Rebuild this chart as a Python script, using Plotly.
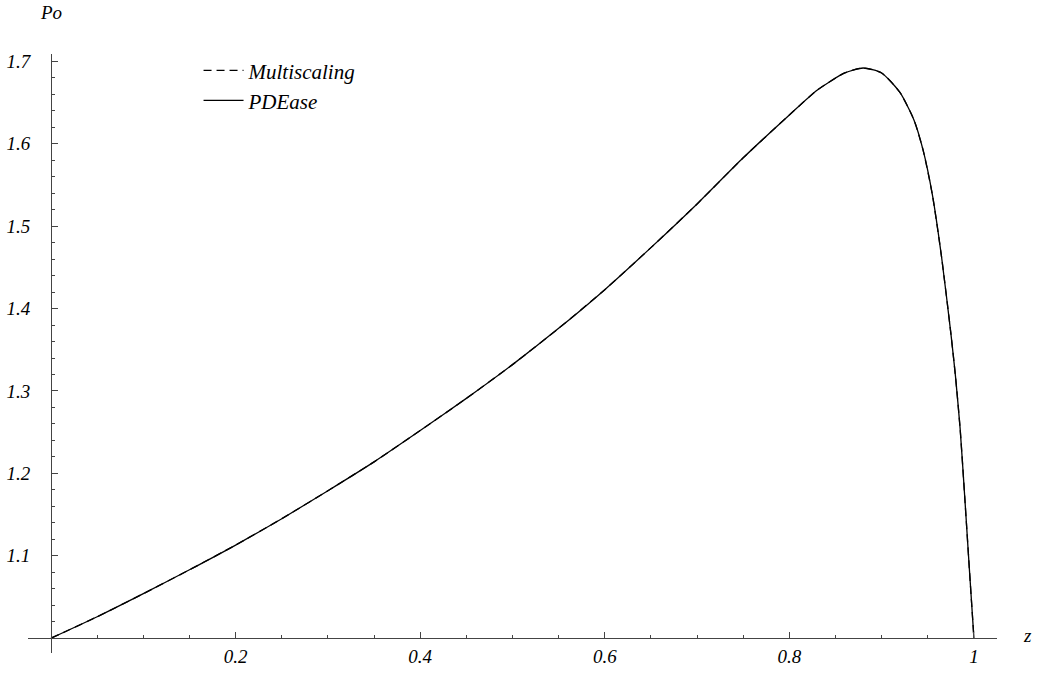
import plotly.graph_objects as go

# data
z_vals = [0.0, 0.05, 0.1, 0.15, 0.2, 0.25, 0.3, 0.35, 0.4, 0.45, 0.5, 0.55, 0.6,
          0.65, 0.7, 0.75, 0.8, 0.83, 0.86, 0.88, 0.9, 0.92, 0.935, 0.945, 0.955,
          0.965, 0.975, 0.98, 0.985, 0.99, 0.995, 1.0]
multiscaling = [1.0, 1.026, 1.054, 1.083, 1.113, 1.145, 1.179, 1.214, 1.252, 1.291,
                1.332, 1.376, 1.423, 1.474, 1.527, 1.583, 1.635, 1.665, 1.686, 1.692,
                1.686, 1.662, 1.629, 1.592, 1.538, 1.462, 1.370, 1.318, 1.255, 1.172,
                1.085, 1.0]
pdease = [1.0, 1.026, 1.054, 1.083, 1.113, 1.145, 1.179, 1.214, 1.252, 1.291,
          1.332, 1.376, 1.423, 1.474, 1.527, 1.583, 1.635, 1.665, 1.686, 1.692,
          1.686, 1.662, 1.629, 1.592, 1.538, 1.462, 1.370, 1.318, 1.255, 1.172,
          1.085, 1.0]

x_tickvals = [0.2, 0.4, 0.6, 0.8, 1.0]
x_ticktext = ["0.2", "0.4", "0.6", "0.8", "1"]
y_tickvals = [1.1, 1.2, 1.3, 1.4, 1.5, 1.6, 1.7]
y_ticktext = ["1.1", "1.2", "1.3", "1.4", "1.5", "1.6", "1.7"]

FONT = "Liberation Serif"
AX = "#444444"

xr = [-0.025, 1.025]
yr = [0.982, 1.709]

fig = go.Figure()
fig.add_trace(go.Scatter(x=z_vals, y=multiscaling, mode="lines", name="Multiscaling",
                         line=dict(color="black", width=1.3, dash="8px,5px",
                                   shape="spline", smoothing=0.6),
                         legend="legend"))
fig.add_trace(go.Scatter(x=z_vals, y=pdease, mode="lines", name="PDEase",
                         line=dict(color="black", width=1.3,
                                   shape="spline", smoothing=0.6),
                         legend="legend2"))

xpos = (1.0 - yr[0]) / (yr[1] - yr[0])
ypos = (0.0 - xr[0]) / (xr[1] - xr[0])

tickfont = dict(family=FONT, size=19, color="black", style="italic")
legfont = dict(family=FONT, size=21, color="black", style="italic")

fig.update_layout(
    width=1044, height=673,
    margin=dict(l=28, r=47, t=54, b=20),
    paper_bgcolor="white", plot_bgcolor="white",
    xaxis=dict(range=xr, showgrid=False, zeroline=False, showline=True,
               linecolor=AX, linewidth=1, anchor="free", position=xpos,
               tickmode="array", tickvals=x_tickvals, ticktext=x_ticktext,
               ticks="inside", ticklen=6, tickcolor=AX, tickwidth=1,
               minor=dict(dtick=0.05, tick0=0, ticks="inside", ticklen=3,
                          tickcolor=AX, tickwidth=1, showgrid=False),
               tickfont=tickfont, ticklabelstandoff=1, automargin=False),
    yaxis=dict(range=yr, showgrid=False, zeroline=False, showline=True,
               linecolor=AX, linewidth=1, anchor="free", position=ypos,
               tickmode="array", tickvals=y_tickvals, ticktext=y_ticktext,
               ticks="inside", ticklen=6, tickcolor=AX, tickwidth=1,
               minor=dict(dtick=0.02, tick0=1.0, ticks="inside", ticklen=3,
                          tickcolor=AX, tickwidth=1, showgrid=False),
               tickfont=tickfont, ticklabelstandoff=17, automargin=False),
    legend=dict(x=0.176, y=0.972, xanchor="left", yanchor="middle",
                itemwidth=40, bgcolor="rgba(0,0,0,0)", font=legfont),
    legend2=dict(x=0.176, y=0.922, xanchor="left", yanchor="middle",
                 itemwidth=40, bgcolor="rgba(0,0,0,0)", font=legfont),
    showlegend=True,
    annotations=[
        dict(text="Po", xref="paper", yref="paper", x=ypos, y=1.0, yshift=42,
             showarrow=False, xanchor="center", yanchor="middle",
             font=dict(family=FONT, size=19, color="black", style="italic")),
        dict(text="z", xref="paper", yref="paper", x=1.0, xshift=30, y=xpos,
             yshift=3, showarrow=False, xanchor="center", yanchor="middle",
             font=dict(family=FONT, size=19, color="black", style="italic")),
    ],
)

fig.write_html("out.html", config={"displayModeBar": False},
               post_script="document.body.style.margin='0';"
                           "document.body.style.overflow='hidden';")
